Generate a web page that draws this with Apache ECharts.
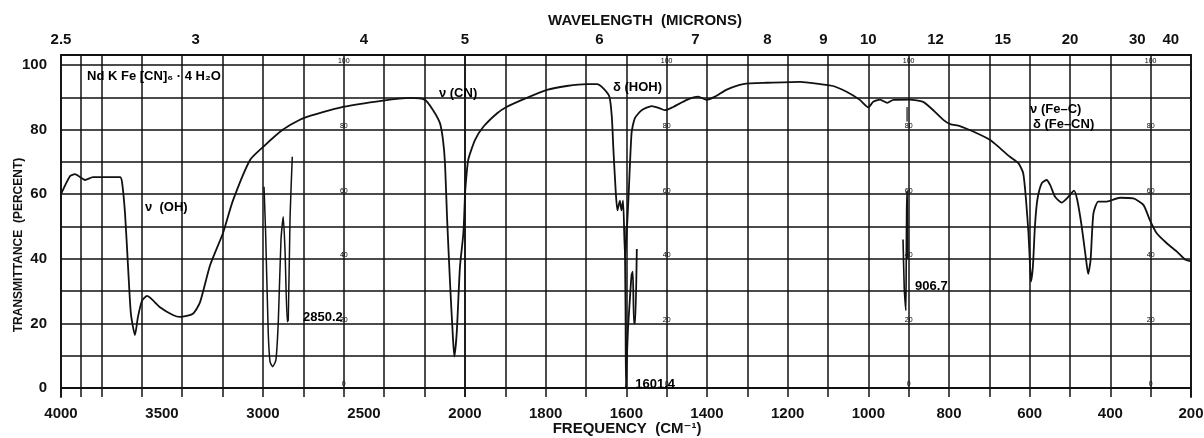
<!DOCTYPE html>
<html lang="en">
<head>
    <meta charset="UTF-8">
    <title>IR spectrum</title>
    <script src="https://cdn.jsdelivr.net/npm/echarts@6/dist/echarts.min.js"></script>
    <style>
        html,body{margin:0;padding:0;background:#fff}
        #chart{width:1204px;height:438px}
    </style>
</head>
<body>
<div id="chart"></div>
<script>
/*
 * spectrum data, frequency in cm-1, transmittance in percent
 */
// main trace 4000-2000 (left half of the paper)
var freqLeft=[4000,3955,3931,3881,3842,3708,3698,3683,3668,3654,3634,3619,3599,3574,3510,3446,3411,3347,3312,3262,3198,3149,3064,3000,2901,2802,2604,2406,2272,2198,2158,2124,2109,2099,2089,2074,2061,2053,2041,2025,2008,2000];
var transLeft=[60,65.6,66.2,64.4,65.3,65.3,63.8,54,37.5,23,16.4,22,27,28.5,25,22.6,22,23,26.5,38,48,58,70.6,74.6,80,83.5,87,89,89.8,89.2,86,82,76.8,69.6,53,32.4,17,9.7,17,37.5,48,60];
// main trace 2000-200 (right half)
var freqRight=[2000,1992,1975,1955,1921,1897,1847,1797,1748,1698,1673,1657,1642,1636,1632,1626,1622,1616,1612,1608,1603,1595,1587,1579,1562,1537,1517,1504,1484,1450,1422,1401,1380,1351,1310,1252,1169,1120,1087,1054,1021,1000,988,971,953,938,897,864,839,814,797,773,740,698,673,649,628,616,609,603,599,597,592,587,581,570,558,549,537,521,504,490,482,471,460,455,449,442,430,409,376,343,318,302,285,260,235,215,202];
var transRight=[60,70.6,76.8,80.8,85,87,89.8,92.3,93.5,94.1,94.1,92.8,90.2,84,73.7,60.2,55,58,55,58,40,58,79,83.5,86,87.3,86.6,86,87,89.2,90.2,89.2,90.2,92.4,94.1,94.5,94.8,94.1,93.5,91.7,89.2,86.9,88.6,89.3,88.3,89.2,89.3,88.6,86,83,81.7,81.1,79.4,76.8,74.2,71.6,69.6,66.5,58.2,48,37.6,32.9,37.6,50,58.2,63.4,64.4,62.8,59.2,57.4,59.2,61.1,58.2,50,39.6,35.3,39.6,54,57.7,57.7,58.9,58.7,56.7,52,47.9,44.8,42.2,39.8,39.3];
// expanded overlay traces
var chFreq=[2995,2987,2974,2965,2952,2936,2924,2911,2900,2891,2880,2875,2866,2855];
var chTrans=[62.3,48,17,8.1,6.6,8.7,21,45.8,53,42.7,20.5,21,53,71.6];
var hohFreq=[1604,1602,1601,1599,1596,1592,1587,1584,1581,1578,1574];
var hohTrans=[50,25,0,8,18,26,35,36,20,20,43];
var fe906Freq=[914,911,909,907,906,905,904,903,902];
var fe906Trans=[46,31,27,24,40,55,61,50,40];
var tickFreq=[904,904];
var tickTrans=[87,82.5];

// axis ticks
var gridLeftTicks=[4000,3900,3800,3600,3400,3200,3000,2800,2600,2400,2200,2000];
var gridRightTicks=[2000,1900,1800,1700,1600,1500,1400,1300,1200,1100,1000,900,800,700,600,500,400,300,200];
var freqLabelsLeft=[4000,3500,3000,2500];
var freqLabelsRight=[2000,1800,1600,1400,1200,1000,800,600,400,200];
var micronLabelsLeft=[2.5,3,4];
var micronLabelsRight=[5,6,7,8,9,10,12,15,20,30,40];
var transTicks=[0,10,20,30,40,50,60,70,80,90,100];
var transLabels=[0,20,40,60,80,100];

// text notes on the chart
var noteText=['Nd K Fe [CN]\u2086 \u00b7 4 H\u2082O','\u03bd  (OH)','\u03bd (CN)','\u03b4 (HOH)','\u03bd (Fe\u2013C)','\u03b4 (Fe\u2013CN)','2850.2','1601.4','906.7'];
var noteFreq=[3871,3584,2129,1633,599,592,2802,1578,884];
var noteTrans=[96.6,56,91.3,93.2,86.4,81.7,21.7,1.2,31.3];
// small numbers printed on the paper
var paperFreq=[2600,1500,900,300];
var paperTrans=[0,20,40,60,80,100];

var FONT='"Liberation Sans", "DejaVu Sans", sans-serif';
var INK='#111';

function zip(a,b){
	var out=[];
	for(var i=0;i<a.length;i++){
		out.push([a[i],b[i]]);
	}
	return out;
}
function toMicron(f){
	return 10000/f;
}
function notes(left){
	var out=[];
	for(var i=0;i<noteText.length;i++){
		if((noteFreq[i]>2000)==left){
			out.push({name:noteText[i],value:[noteFreq[i],noteTrans[i]]});
		}
	}
	return out;
}
function paperMarks(left){
	var out=[];
	for(var i=0;i<paperFreq.length;i++){
		if((paperFreq[i]>2000)!=left) continue;
		for(var j=0;j<paperTrans.length;j++){
			out.push({name:String(paperTrans[j]),value:[paperFreq[i],paperTrans[j]]});
		}
	}
	return out;
}

var gridLine={show:true,lineStyle:{color:INK,width:1.5}};
var frameLine={show:true,lineStyle:{color:INK,width:1.8}};
var labelStyle={color:INK,fontFamily:FONT,fontWeight:'bold',fontSize:15};
var plain=function(v){return String(v);};
var micron=function(v){return String(Math.round(10000/v*10)/10);};
// ticks only carry the grid positions, they are not drawn
function hiddenTicks(vals){
	var t={show:false,length:0,lineStyle:{width:0,color:'rgba(0,0,0,0)'}};
	if(vals) t.customValues=vals;
	return t;
}

function lineSeries(data,idx,w){
	return {type:'line',xAxisIndex:idx,yAxisIndex:idx,data:data,symbol:'none',smooth:0.2,
		lineStyle:{color:INK,width:w},silent:true,animation:false,clip:false};
}
function textSeries(data,idx,pos,size,weight){
	return {type:'scatter',xAxisIndex:idx,yAxisIndex:idx,data:data,symbolSize:0,
		itemStyle:{color:'#fff',opacity:1},silent:true,animation:false,
		label:{show:true,formatter:'{b}',position:pos,distance:0,color:'#000',opacity:1,
			textBorderWidth:0,fontFamily:FONT,fontWeight:weight,fontSize:size}};
}

var chart=echarts.init(document.getElementById('chart'));
var option={
	animation:false,
	backgroundColor:'#fff',
	grid:[
		{left:61,width:404,top:55,bottom:41,outerBoundsMode:'none'},
		{left:465,right:13,top:55,bottom:41,outerBoundsMode:'none'}
	],
	xAxis:[
		{type:'value',gridIndex:0,position:'bottom',min:2000,max:4000,inverse:true,
			axisLine:frameLine,axisTick:hiddenTicks(gridLeftTicks),
			axisLabel:Object.assign({customValues:freqLabelsLeft,margin:9,formatter:plain},labelStyle),splitLine:gridLine},
		{type:'value',gridIndex:1,position:'bottom',min:200,max:2000,inverse:true,
			axisLine:frameLine,axisTick:hiddenTicks(gridRightTicks),
			axisLabel:Object.assign({customValues:freqLabelsRight,margin:9,formatter:plain},labelStyle),splitLine:gridLine},
		{type:'value',gridIndex:0,position:'top',min:2000,max:4000,inverse:true,
			axisLine:frameLine,axisTick:hiddenTicks(),splitLine:{show:false},
			axisLabel:Object.assign({customValues:micronLabelsLeft.map(toMicron),margin:8,formatter:micron},labelStyle)},
		{type:'value',gridIndex:1,position:'top',min:200,max:2000,inverse:true,
			axisLine:frameLine,axisTick:hiddenTicks(),splitLine:{show:false},
			axisLabel:Object.assign({customValues:micronLabelsRight.map(toMicron),margin:8,formatter:micron},labelStyle)}
	],
	yAxis:[
		{type:'value',gridIndex:0,position:'left',min:-2.8,max:103.1,
			axisLine:frameLine,axisTick:hiddenTicks(transTicks),
			axisLabel:Object.assign({customValues:transLabels,margin:14,formatter:plain},labelStyle),splitLine:gridLine},
		{type:'value',gridIndex:1,position:'right',min:-2.8,max:103.1,
			axisLine:frameLine,axisTick:hiddenTicks(transTicks),
			axisLabel:{show:false},splitLine:gridLine}
	],
	graphic:[
		{type:'text',x:645,y:21,style:{text:'WAVELENGTH  (MICRONS)',font:'bold 15px '+FONT,fill:INK,align:'center',verticalAlign:'middle'}},
		{type:'text',x:627,y:429,style:{text:'FREQUENCY  (CM\u207b\u00b9)',font:'bold 15px '+FONT,fill:INK,align:'center',verticalAlign:'middle'}},
		{type:'text',x:19,y:245,rotation:Math.PI/2,style:{text:'TRANSMITTANCE  (PERCENT)',font:'bold 12px '+FONT,fill:INK,align:'center',verticalAlign:'middle'}}
	],
	series:[
		lineSeries(zip(freqLeft,transLeft),0,1.8),
		lineSeries(zip(chFreq,chTrans),0,1.5),
		lineSeries(zip(freqRight,transRight),1,1.8),
		lineSeries(zip(hohFreq,hohTrans),1,1.8),
		lineSeries(zip(fe906Freq,fe906Trans),1,1.6),
		lineSeries(zip(tickFreq,tickTrans),1,1.2),
		textSeries(notes(true),0,'right',13,'bold'),
		textSeries(notes(false),1,'right',13,'bold'),
		textSeries(paperMarks(true),0,'top',7,'normal'),
		textSeries(paperMarks(false),1,'top',7,'normal')
	]
};
chart.setOption(option);
</script>
</body>
</html>
